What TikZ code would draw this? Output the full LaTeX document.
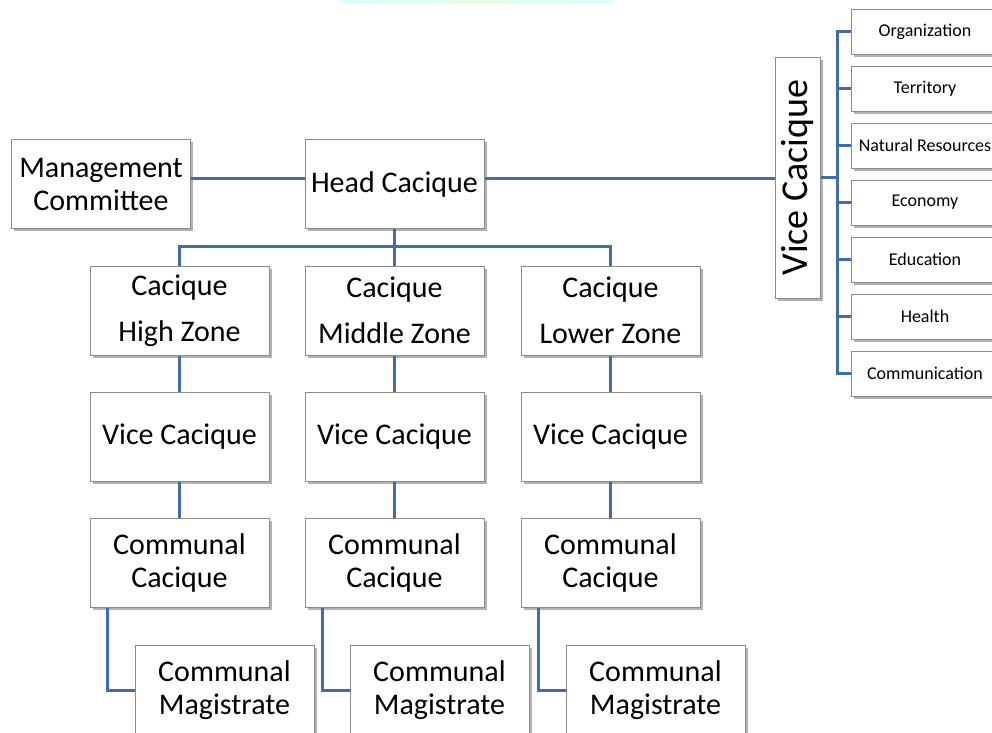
\documentclass[tikz,border=0pt]{standalone}
\usepackage{fontspec}
\setmainfont{Carlito}
\usepackage{tikz}
\usetikzlibrary{shapes,positioning,shadows}
\definecolor{linkblue}{RGB}{66,108,172}
\definecolor{boxgray}{RGB}{140,140,140}
\tikzset{
  every node/.style={
    font=\fontsize{30}{33}\selectfont
  },
  box style/.style={
    shape=rectangle,
    draw=boxgray,
    line width=1pt,
    fill=white,
    inner sep=0pt,
    align=center,
    minimum width=179pt,
    minimum height=89pt,
    drop shadow={shadow xshift=2.5pt,shadow yshift=-2.5pt,fill=black!55,opacity=.55}
  },
  area style/.style={
    box style,
    minimum width=148pt,
    minimum height=45pt,
    font=\fontsize{18}{20}\selectfont
  },
  link style/.style={
    draw=linkblue,
    line width=3pt
  }
}

\begin{document}
\begin{tikzpicture}[x=1pt,y=-1pt,
    zone style/.style={box style,font=\fontsize{30}{46}\selectfont}
  ]
  \useasboundingbox (0,0) rectangle (992,732);
  \shade[left color=cyan!15,right color=cyan!15,middle color=green!10] (340,0) rectangle (612,3);

  \node[box style] (mgmt) at (101,184) {Management\\Committee};
  \node[box style] (head) at (394.5,184) {Head Cacique};

  \node[zone style] (zone1) at (179.5,310.5) {Cacique\\High Zone};
  \node[zone style] (zone2) at (394.5,310.5) {Cacique\\Middle Zone};
  \node[zone style] (zone3) at (610.5,310.5) {Cacique\\Lower Zone};

  \node[box style] (vice1) at (179.5,437) {Vice Cacique};
  \node[box style] (vice2) at (394.5,437) {Vice Cacique};
  \node[box style] (vice3) at (610.5,437) {Vice Cacique};

  \node[box style] (comm1) at (179.5,562.5) {Communal\\Cacique};
  \node[box style] (comm2) at (394.5,562.5) {Communal\\Cacique};
  \node[box style] (comm3) at (610.5,562.5) {Communal\\Cacique};

  \node[box style] (mag1) at (224.5,690) {Communal\\Magistrate};
  \node[box style] (mag2) at (439.5,690) {Communal\\Magistrate};
  \node[box style] (mag3) at (655.5,690) {Communal\\Magistrate};

  \node[box style,minimum width=45pt,minimum height=241pt] (vcq) at (797.5,177.5)
    {\rotatebox{90}{\fontsize{38}{40}\selectfont Vice Cacique}};

  \node[area style] (org) at (925,31.5) {Organization};
  \node[area style,below=11pt of org] (ter) {Territory};
  \node[area style,below=11pt of ter] (nat) {Natural Resources};
  \node[area style,below=11pt of nat] (eco) {Economy};
  \node[area style,below=11pt of eco] (edu) {Education};
  \node[area style,below=11pt of edu] (hea) {Health};
  \node[area style,below=11pt of hea] (com) {Communication};
  \coordinate (spine) at (837,0);

  \draw[link style] ([yshift=6pt]mgmt.east) -- ([yshift=6pt]head.west);
  \draw[link style] ([yshift=6pt]head.east) -- ([yshift=6pt]head.east -| vcq.west);
  \draw[link style] (vcq.east) -- (vcq.east -| spine);
  \draw[link style] (org.west) -- (org.west -| spine) -- (com.west -| spine) -- (com.west);
  \foreach \n in {ter,nat,eco,edu,hea}
    \draw[link style] (\n.west) -- (\n.west -| spine);

  \draw[link style] (head) -- (zone2);
  \draw[link style] (zone1.north) -- ++(0,-19) -| (zone3.north);

  \draw[link style] (zone1) -- (vice1);
  \draw[link style] (zone2) -- (vice2);
  \draw[link style] (zone3) -- (vice3);
  \draw[link style] (vice1) -- (comm1);
  \draw[link style] (vice2) -- (comm2);
  \draw[link style] (vice3) -- (comm3);

  \draw[link style] ([xshift=18pt]comm1.south west) |- (mag1.west);
  \draw[link style] ([xshift=18pt]comm2.south west) |- (mag2.west);
  \draw[link style] ([xshift=18pt]comm3.south west) |- (mag3.west);
\end{tikzpicture}
\end{document}
